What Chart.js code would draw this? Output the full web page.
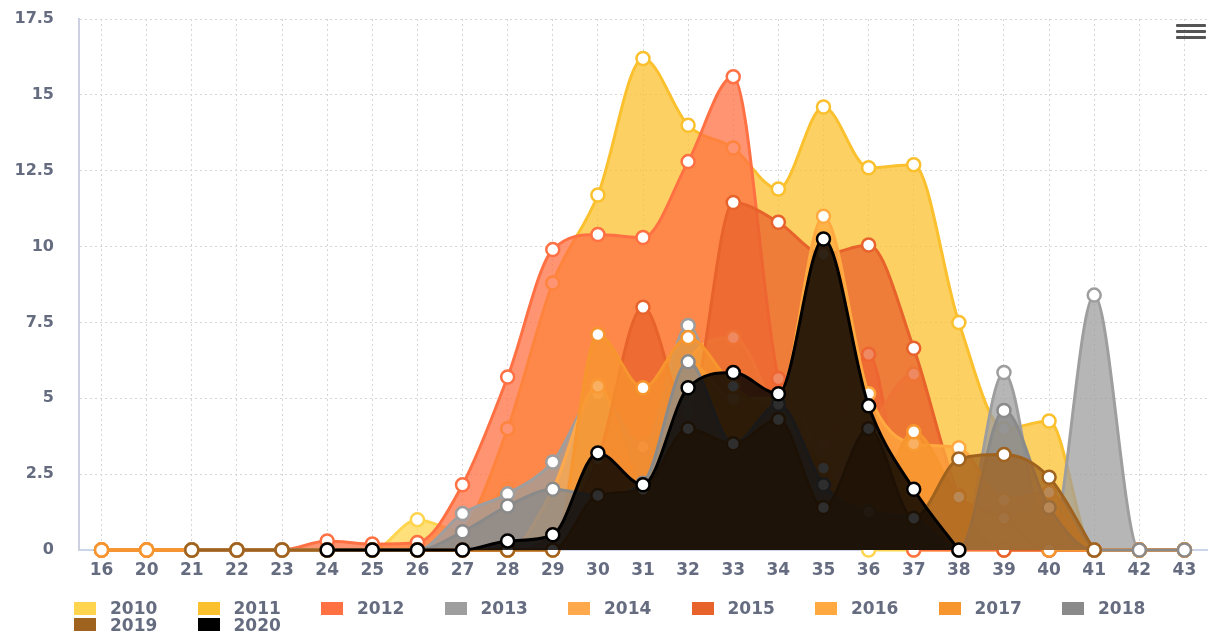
<!DOCTYPE html>
<html lang="en">
<head>
    <meta charset="UTF-8">
    <title>Cases per week by year</title>
    <script src="https://cdn.jsdelivr.net/npm/chart.js"></script>
    <style>
        html, body { margin: 0; padding: 0; background: #fff; }
        #wrap { position: relative; width: 1216px; height: 633px; }
        #menu { position: absolute; left: 1176px; top: 24px; width: 30px; }
        #menu span { display: block; height: 3px; background: #555; border-radius: 1px; margin-bottom: 3px; }
        #legend { position: absolute; left: 74px; top: 600px; width: 1112px; display: flex; flex-wrap: wrap;
                  font: bold 17px "DejaVu Sans", sans-serif; color: #666c80; }
        #legend .item { display: flex; align-items: center; width: 123.5px; height: 16.5px; white-space: nowrap; }
        #legend .item i { display: block; width: 22px; height: 13px; margin-right: 14px; }
    </style>
</head>
<body>
<div id="wrap">
    <canvas id="chart" width="1216" height="633"></canvas>
    <div id="menu"><span></span><span></span><span></span></div>
    <div id="legend"></div>
</div>
<script>
    // calendar weeks on the x axis
    const weeks = ['16', '20', '21', '22', '23', '24', '25', '26', '27', '28', '29', '30', '31',
                   '32', '33', '34', '35', '36', '37', '38', '39', '40', '41', '42', '43'];

    //           16 20 21 22 23 24   25   26   27   28   29   30    31    32    33    34    35    36    37    38   39   40   41  42  43
    const y2010 = [0, 0, 0, 0, 0, 0, 0, 1.0, 0.6, 2.0, 2.0, 5.3, 4.5, 7.0, 5.0, 5.65, 2.7, 0, 0, 0, 0, 0, 0, 0, 0];
    const y2011 = [0, 0, 0, 0, 0, 0, 0, 0, 0.6, 4.0, 8.8, 11.7, 16.2, 14.0, 13.25, 11.9, 14.6, 12.6, 12.7, 7.5, 4.0, 4.25, 0, 0, 0];
    const y2012 = [0, 0, 0, 0, 0, 0.3, 0.2, 0.25, 2.15, 5.7, 9.9, 10.4, 10.3, 12.8, 15.6, 5.65, 3.45, 6.45, 0, 0, 0, 0, 0, 0, 0];
    const y2013 = [0, 0, 0, 0, 0, 0, 0, 0, 1.2, 1.85, 2.9, 5.15, 3.4, 7.4, 3.5, 4.8, 2.15, 4.0, 1.65, 0, 5.85, 0, 8.4, 0, 0];
    const y2014 = [0, 0, 0, 0, 0, 0, 0, 0, 0, 0, 2.0, 5.4, 2.2, 6.2, 7.0, 4.3, 1.4, 3.9, 5.8, 1.75, 1.05, 1.4, 0, 0, 0];
    const y2015 = [0, 0, 0, 0, 0, 0, 0, 0, 0, 0, 0.5, 3.0, 8.0, 4.5, 11.45, 10.8, 9.75, 10.05, 6.65, 1.8, 0, 0, 0, 0, 0];
    const y2016 = [0, 0, 0, 0, 0, 0, 0, 0, 0, 0, 0, 1.8, 2.2, 6.2, 5.0, 5.0, 11.0, 5.15, 3.5, 3.37, 1.65, 1.9, 0, 0, 0];
    const y2017 = [0, 0, 0, 0, 0, 0, 0, 0, 0, 0, 0, 7.1, 5.35, 7.0, 5.4, 4.3, 2.7, 1.25, 3.9, 1.75, 1.05, 0, 0, 0, 0];
    const y2018 = [null, null, 0, 0, 0, 0, 0, 0, 0.6, 1.45, 2.0, 1.8, 2.2, 6.2, 3.5, 4.8, 2.15, 1.25, 1.05, 0, 4.6, 1.4, 0, 0, 0];
    const y2019 = [null, null, 0, 0, 0, 0, 0, 0, 0, 0, 0, 1.8, 2.0, 4.0, 3.5, 4.3, 1.4, 4.0, 1.05, 3.0, 3.15, 2.4, 0, null, null];
    const y2020 = [null, null, null, null, null, 0, 0, 0, 0, 0.3, 0.5, 3.2, 2.15, 5.35, 5.85, 5.15, 10.25, 4.75, 2.0, 0, null, null, null, null, null];

    const years = ['2010', '2011', '2012', '2013', '2014', '2015', '2016', '2017', '2018', '2019', '2020'];
    const yearValues = [y2010, y2011, y2012, y2013, y2014, y2015, y2016, y2017, y2018, y2019, y2020];
    const yearColors = ['#FFD54F', '#FBC02D', '#FF7043', '#9E9E9E', '#FFA94D', '#E8622C',
                        '#FFA940', '#F7952E', '#8A8A8A', '#A0621F', '#000000'];

    const yTicksMax = 17.5;
    const yTicksStep = 2.5;

    function withAlpha(hex, a) {
        const n = parseInt(hex.slice(1), 16);
        return 'rgba(' + (n >> 16) + ',' + ((n >> 8) & 255) + ',' + (n & 255) + ',' + a + ')';
    }

    const labelColor = '#666c80';
    const labelFont = { family: 'DejaVu Sans', weight: 'bold' };

    // html legend, built from the chart's datasets
    const htmlLegend = {
        id: 'htmlLegend',
        afterUpdate(chart) {
            const box = document.getElementById('legend');
            box.innerHTML = '';
            chart.data.datasets.forEach(ds => {
                const item = document.createElement('div');
                item.className = 'item';
                const sw = document.createElement('i');
                sw.style.background = ds.borderColor;
                item.appendChild(sw);
                item.appendChild(document.createTextNode(ds.label));
                box.appendChild(item);
            });
        }
    };

    const ctx = document.getElementById('chart').getContext('2d');
    const chart = new Chart(ctx, {
        type: 'line',
        data: {
            labels: weeks,
            datasets: years.map((year, i) => ({
                label: year,
                data: yearValues[i],
                borderColor: yearColors[i],
                backgroundColor: withAlpha(yearColors[i], year === '2020' ? 0.82 : 0.75),
                fill: 'origin',
                borderWidth: 3,
                pointRadius: 6.5,
                pointBorderWidth: 2.5,
                pointBackgroundColor: '#ffffff',
                pointBorderColor: yearColors[i],
                cubicInterpolationMode: 'monotone',
                clip: false,
                order: years.length - i   // later years on top
            }))
        },
        options: {
            responsive: false,
            animation: false,
            layout: { padding: { left: 0, right: 6, top: 19, bottom: 50 } },
            plugins: {
                legend: { display: false },
                tooltip: { enabled: false }
            },
            scales: {
                x: {
                    offset: true,
                    grid: { offset: false, color: '#d6d6d6', lineWidth: 1, drawTicks: false },
                    border: { display: true, color: '#ccd6eb', width: 2, dash: [2, 3] },
                    ticks: { color: labelColor, font: { ...labelFont, size: 17 }, padding: 10, maxRotation: 0, autoSkip: false },
                    afterFit: s => { s.height = 33; }
                },
                y: {
                    min: 0,
                    max: yTicksMax,
                    grid: { color: '#d6d6d6', lineWidth: 1, drawTicks: false },
                    border: { display: true, color: '#ccd0e0', width: 2, dash: [2, 3] },
                    ticks: { stepSize: yTicksStep, color: labelColor, font: { ...labelFont, size: 16 }, padding: 25 },
                    // keep the label gap from pushing the plot down
                    afterFit: s => { s.width = 79; s.paddingTop = 0; s.paddingBottom = 0; }
                }
            }
        },
        plugins: [htmlLegend]
    });
</script>
</body>
</html>
